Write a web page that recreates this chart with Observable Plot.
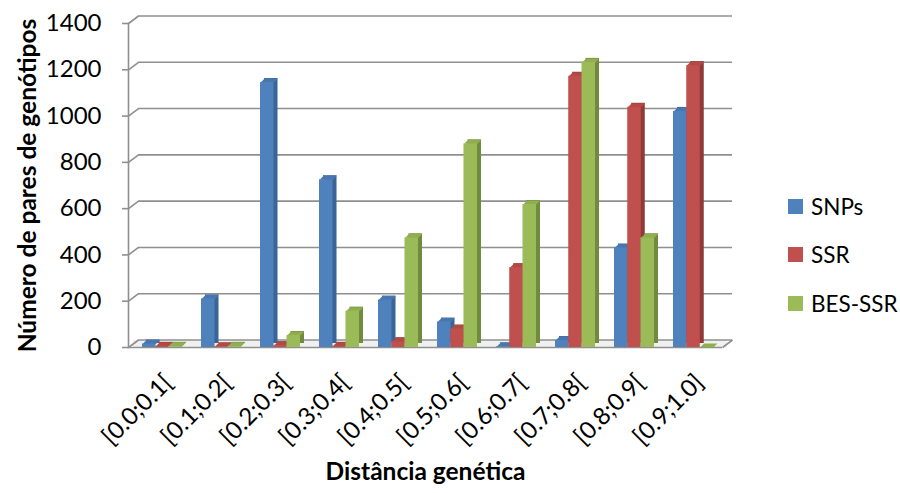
<!DOCTYPE html>
<html>
<head>
<meta charset="utf-8">
<script src="https://cdn.jsdelivr.net/npm/d3@7"></script>
<script src="https://cdn.jsdelivr.net/npm/@observablehq/plot@0.6"></script>
<style>
  body { margin: 0; background: #fff; }
  #wrap { position: relative; width: 900px; height: 493px; font-family: Lato, "Open Sans", sans-serif; }
  .legend { position: absolute; left: 788px; top: 182px; font-size: 22.5px; color: #000; }
  .legend div { display: flex; align-items: center; height: 48.5px; }
  .legend span.sw { display: inline-block; width: 15px; height: 15px; margin-right: 8px; }
</style>
</head>
<body>
<div id="wrap"></div>
<script>
// ---- data ----
const categories = ["[0.0;0.1[", "[0.1;0.2[", "[0.2;0.3[", "[0.3;0.4[", "[0.4;0.5[", "[0.5;0.6[", "[0.6;0.7[", "[0.7;0.8[", "[0.8;0.9[", "[0.9;1.0]"];
const seriesNames = ["SNPs", "SSR", "BES-SSR"];
const snps   = [15, 210, 1145, 725, 205, 110, 3, 30, 430, 1020];
const ssr    = [5, 3, 8, 5, 25, 80, 345, 1172, 1038, 1218];
const besSsr = [5, 5, 52, 157, 474, 880, 618, 1232, 474, 0];
const yTicks = [0, 200, 400, 600, 800, 1000, 1200, 1400];

// ---- styles ----
const frontColors = ["#4f81bd", "#c0504d", "#9bbb59"];
const sideColors  = ["#3a6597", "#903a37", "#718b3e"];
const topColors   = ["#4877b0", "#b34845", "#8eae4f"];
const gridColor = "#8f8f8f";
const depthX = 4, depthY = 4;      // bar depth
const wallX = 10, wallY = 7.5;     // back wall offset
const step = 59.3, padInner = 0.33;
const barW = step * (1 - padInner) / 3;

const allValues = [snps, ssr, besSsr];
const rows = [];
seriesNames.forEach((s, i) => categories.forEach((c, j) => rows.push({cat: c, series: s, si: i, value: allValues[i][j]})));

function lineSymbol(dx, dy) {
  return {draw(ctx) { ctx.moveTo(0, 0); ctx.lineTo(dx, dy); }};
}
function topSymbol(w, dx, dy) {
  return {draw(ctx) { ctx.moveTo(0, 0); ctx.lineTo(w, 0); ctx.lineTo(w + dx, -dy); ctx.lineTo(dx, -dy); ctx.closePath(); }};
}

const marks = [];
// floor
marks.push(Plot.ruleY([0], {dx: wallX / 2, dy: -wallY / 2, stroke: "#f0f0f0", strokeWidth: wallY}));
// back-wall gridlines
marks.push(Plot.ruleY(yTicks, {dx: wallX, dy: -wallY, stroke: gridColor, strokeWidth: 1.6}));
// diagonal connectors from front axis to back wall
marks.push(Plot.dot(yTicks, {y: d => d, frameAnchor: "left", symbol: lineSymbol(wallX, -wallY), fill: "none", stroke: gridColor, strokeWidth: 1.6}));
marks.push(Plot.dot([0], {y: d => d, frameAnchor: "right", symbol: lineSymbol(wallX, -wallY), fill: "none", stroke: gridColor, strokeWidth: 1.6}));
// front floor edge
marks.push(Plot.ruleY([0], {stroke: gridColor, strokeWidth: 1.6}));
// front axis line
marks.push(Plot.frame({anchor: "left", stroke: gridColor, strokeWidth: 1.6}));

// bars
seriesNames.forEach((s, i) => {
  const data = rows.filter(r => r.series === s);
  const inset = {insetLeft: i * barW, insetRight: (2 - i) * barW};
  marks.push(Plot.barY(data, {x: "cat", y: "value", fill: sideColors[i], dx: depthX, dy: -depthY, ...inset}));
  marks.push(Plot.dot(data, {x: "cat", y: "value", dx: (i - 1.5) * barW, symbol: topSymbol(barW, depthX, depthY), fill: topColors[i], stroke: "none"}));
  marks.push(Plot.barY(data, {x: "cat", y: "value", fill: frontColors[i], ...inset}));
});

// axes
marks.push(Plot.axisY({ticks: yTicks, tickSize: 6, tickPadding: 21, tickFormat: d => String(d), label: null, stroke: gridColor, strokeWidth: 1.6, fontSize: 24}));
marks.push(Plot.axisX({tickRotate: -45, tickSize: 0, tickPadding: 31, dx: 6, label: null, fontSize: 24}));
// axis titles
marks.push(Plot.text(["Número de pares de genótipos"], {frameAnchor: "left", dx: -100, rotate: -90, textAnchor: "middle", fontWeight: "bold", fontSize: 24.5}));
marks.push(Plot.text(["Distância genética"], {frameAnchor: "bottom", dy: 132, textAnchor: "middle", fontWeight: "bold", fontSize: 24.5}));

const chart = Plot.plot({
  width: 900,
  height: 493,
  marginLeft: 128,
  marginRight: 178,
  marginTop: 23,
  marginBottom: 146,
  style: {fontFamily: "Lato, 'Open Sans', sans-serif", fontSize: "24px", color: "#000", background: "#fff", overflow: "visible"},
  x: {domain: categories, range: [131, 724], paddingInner: padInner, paddingOuter: padInner / 2},
  y: {domain: [0, 1400]},
  marks
});
const wrap = document.getElementById("wrap");
wrap.appendChild(chart);

const legend = document.createElement("div");
legend.className = "legend";
seriesNames.forEach((s, i) => {
  const item = document.createElement("div");
  const sw = document.createElement("span");
  sw.className = "sw";
  sw.style.background = frontColors[i];
  item.appendChild(sw);
  item.appendChild(document.createTextNode(s));
  legend.appendChild(item);
});
wrap.appendChild(legend);
</script>
</body>
</html>
